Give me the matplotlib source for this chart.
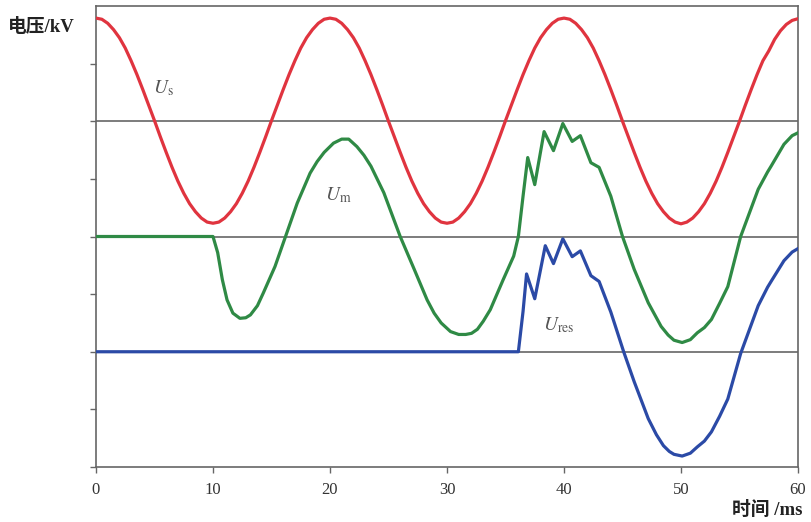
import matplotlib
matplotlib.use("Agg")
import matplotlib.pyplot as plt

plt.rcParams['mathtext.fontset'] = 'stix'
plt.rcParams['font.family'] = ['Liberation Serif', 'Noto Sans CJK SC']

# Source voltage Us (relative to its own baseline), sampled every 0.5 ms
t_us = [i * 0.5 for i in range(121)]
us = [1.79, 1.77, 1.70, 1.59, 1.45, 1.27, 1.05, 0.81, 0.55, 0.28,
      0.01, -0.27, -0.54, -0.80, -1.04, -1.25, -1.43, -1.57, -1.68, -1.75,
      -1.77, -1.75, -1.68, -1.57, -1.43, -1.25, -1.04, -0.80, -0.54, -0.27,
      0.01, 0.28, 0.55, 0.81, 1.05, 1.27, 1.45, 1.59, 1.70, 1.77,
      1.79, 1.77, 1.70, 1.59, 1.45, 1.27, 1.05, 0.81, 0.55, 0.28,
      0.00, -0.27, -0.54, -0.80, -1.04, -1.25, -1.43, -1.57, -1.68, -1.75,
      -1.77, -1.75, -1.68, -1.57, -1.43, -1.25, -1.04, -0.80, -0.54, -0.27,
      0.01, 0.28, 0.55, 0.81, 1.05, 1.27, 1.45, 1.59, 1.70, 1.77,
      1.79, 1.77, 1.70, 1.59, 1.45, 1.27, 1.05, 0.81, 0.55, 0.28,
      0.00, -0.27, -0.54, -0.80, -1.04, -1.25, -1.43, -1.57, -1.68, -1.75,
      -1.78, -1.75, -1.68, -1.57, -1.43, -1.25, -1.04, -0.80, -0.54, -0.27,
      0.00, 0.28, 0.55, 0.81, 1.05, 1.22, 1.42, 1.57, 1.68, 1.75,
      1.78]

# Voltage Um
t_um = [0, 10.0, 10.4, 10.8, 11.2, 11.7, 12.3, 12.8, 13.2, 13.8, 14.3, 15.3,
        16.2, 17.2, 18.3, 18.9, 19.5, 20.3, 21.0, 21.6, 22.3, 22.9, 23.5,
        24.6, 26.0, 27.2, 28.3, 28.9, 29.5, 30.3, 31.0, 31.6, 32.1, 32.6,
        33.1, 33.7, 34.8, 35.7, 36.1, 36.5, 36.9, 37.5, 38.3, 39.1, 39.9,
        40.7, 41.4, 42.3, 43.0, 44.0, 45.0, 46.0, 47.2, 48.3, 48.9, 49.4,
        50.1, 50.8, 51.4, 52.0, 52.6, 53.3, 54.0, 55.1, 56.6, 57.4, 57.7,
        58.8, 59.5, 60.0]
um = [0, 0, -0.28, -0.75, -1.10, -1.33, -1.42, -1.41, -1.36, -1.20, -0.98,
      -0.52, 0.00, 0.58, 1.10, 1.30, 1.46, 1.62, 1.69, 1.69, 1.56, 1.41,
      1.22, 0.76, 0.00, -0.57, -1.10, -1.33, -1.50, -1.65, -1.70, -1.70,
      -1.68, -1.61, -1.47, -1.27, -0.75, -0.34, 0.00, 0.70, 1.37, 0.90,
      1.82, 1.49, 1.96, 1.65, 1.75, 1.28, 1.20, 0.70, 0.00, -0.57, -1.15,
      -1.56, -1.71, -1.80, -1.84, -1.79, -1.67, -1.58, -1.44, -1.16, -0.87,
      0.00, 0.82, 1.12, 1.22, 1.60, 1.75, 1.80]

# Residual voltage Ures
t_ures = [0, 36.1, 36.5, 36.8, 37.5, 38.4, 39.1, 39.9, 40.7, 41.4, 42.3,
          43.0, 44.0, 45.1, 46.0, 47.2, 47.9, 48.5, 49.0, 49.4, 50.1, 50.8,
          51.4, 52.0, 52.6, 53.3, 54.0, 55.1, 56.6, 57.4, 57.7, 58.8, 59.5,
          60.0]
ures = [0, 0, 0.70, 1.35, 0.92, 1.84, 1.53, 1.96, 1.65, 1.75, 1.32, 1.22,
        0.69, 0.00, -0.52, -1.16, -1.44, -1.63, -1.73, -1.78, -1.81, -1.76,
        -1.65, -1.55, -1.39, -1.12, -0.82, -0.03, 0.80, 1.12, 1.22, 1.58,
        1.73, 1.79]

# Vertical baselines of the three traces
base_us, base_um, base_ures = 6, 4, 2

x_ticks = [0, 10, 20, 30, 40, 50, 60]

fig = plt.figure(figsize=(8.12, 5.22), dpi=100)
ax = fig.add_axes([96 / 812, 55 / 522, 702 / 812, 461 / 522])
ax.set_xlim(0, 60)
ax.set_ylim(0, 8)

for yb in (base_ures, base_um, base_us):
    ax.axhline(yb, color='#666666', lw=1.2, zorder=1)

ax.plot(t_us, [v + base_us for v in us], color='#e0343f', lw=2.3,
        zorder=3, solid_joinstyle='round')
ax.plot(t_um, [v + base_um for v in um], color='#2f8a45', lw=2.3,
        zorder=3, solid_joinstyle='round')
ax.plot(t_ures, [v + base_ures for v in ures], color='#2b4aa6', lw=2.3,
        zorder=3, solid_joinstyle='round')

ax.set_xticks(x_ticks)
ax.set_xticklabels([str(v) for v in x_ticks], fontsize=12, color='#333333')
ax.set_yticks(range(0, 8))
ax.set_yticklabels([])
ax.tick_params(direction='out', length=4.5, width=1.0, color='#666666', pad=6)
for s in ax.spines.values():
    s.set_color('#666666')
    s.set_linewidth(1.2)

tfont = dict(fontsize=14, color='#555555')
ax.text(4.9, 6.48, r'$U_{\mathrm{s}}$', **tfont)
ax.text(19.6, 4.63, r'$U_{\mathrm{m}}$', **tfont)
ax.text(38.2, 2.38, r'$U_{\mathrm{res}}$', **tfont)

fig.text(8 / 812, 1 - 27 / 522, '电压/kV', fontsize=13.5, fontweight='bold',
         color='#222222', va='center', ha='left')
fig.text(803 / 812, 1 - 510 / 522, '时间 /ms', fontsize=13.5, fontweight='bold',
         color='#222222', va='center', ha='right')

fig.savefig('out.png', dpi=100, facecolor='white')
